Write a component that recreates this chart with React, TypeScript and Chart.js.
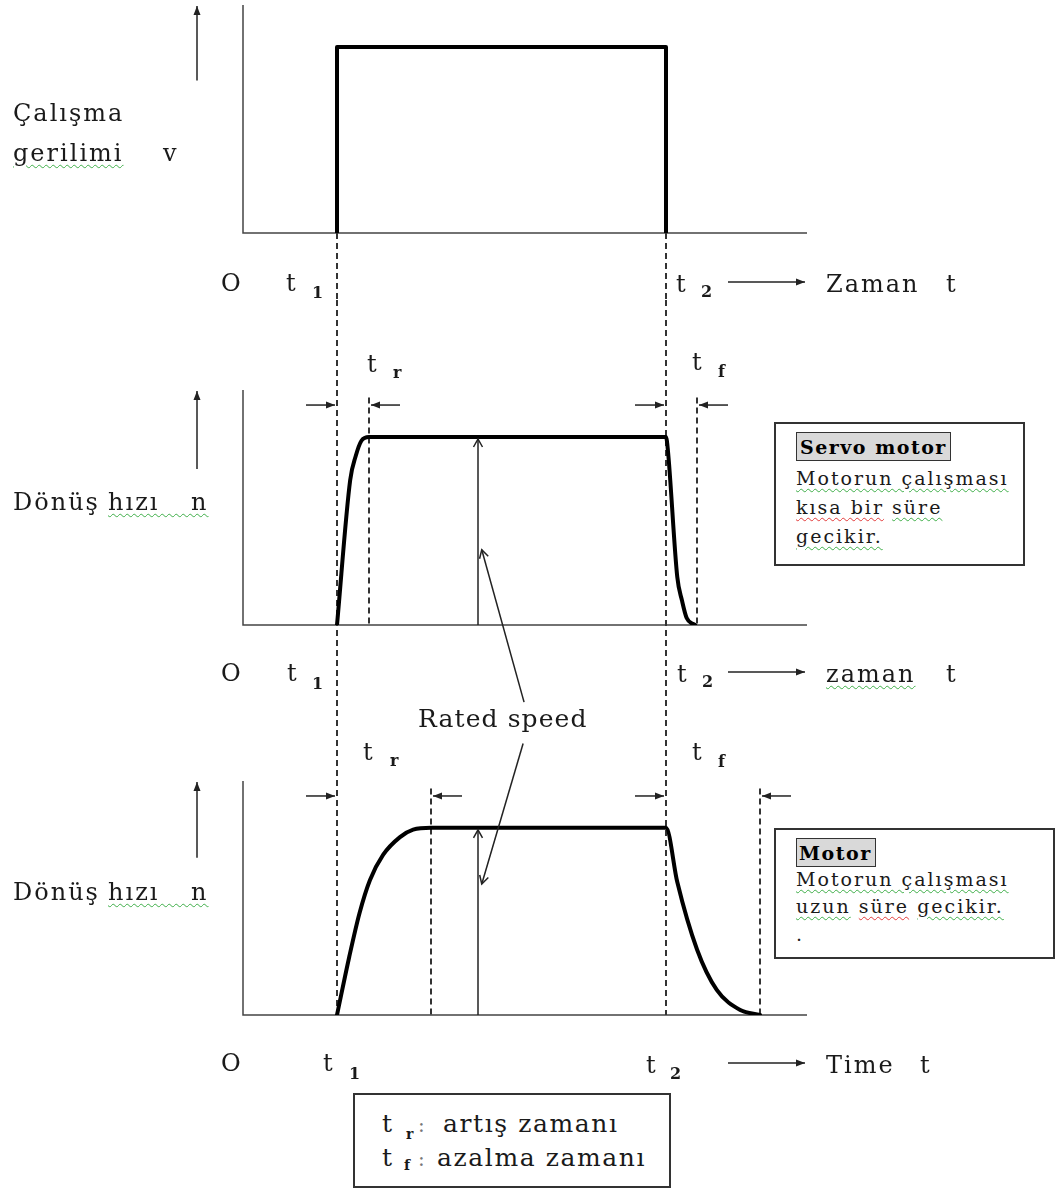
import React, { useEffect, useRef } from "react";
import { Chart, registerables } from "chart.js";
Chart.register(...registerables);

// ---------- data (time in arbitrary units, level normalised: 1 = rated) ----------
const T_MAX = 60;
const T1 = 10;
const T2 = 45;
const SERVO_TR_END = 13.4;
const SERVO_TF_END = 48.3;
const MOTOR_TR_END = 20;
const MOTOR_TF_END = 55;
const RATED_T = 25;

const voltageT = [10, 10, 45, 45];
const voltageV = [0, 1, 1, 0];

const servoT = [10, 11.4, 12.0, 12.6, 13.4, 45, 45.2, 46.2, 46.7, 47.2, 48.1];
const servoN = [0, 0.77, 0.9, 0.98, 1, 1, 0.93, 0.255, 0.13, 0.037, 0];

const motorT = [10, 11.3, 12.4, 13.5, 14.9, 16.7, 18.1, 20, 45, 46.2, 48.3, 50.4, 52.9, 55];
const motorN = [0, 0.31, 0.545, 0.72, 0.855, 0.95, 0.99, 1, 1, 0.71, 0.35, 0.134, 0.027, 0];

// ---------- layout ----------
const W = 1055;
const FONT = "'DejaVu Serif', 'Liberation Serif', serif";
const INK = "#1a1a1a";

type Dashed = { t: number; from: number | "top"; to: number | "bottom" };
type Dim = { t: number; dir: 1 | -1 };
type Deco = {
  yMax: number;
  yArrowFrom: number;
  dashed: Dashed[];
  dims: Dim[];
  dimLevel: number;
  rated?: { t: number; from: [number, number]; to: [number, number] };
  timeArrowOffset: number;
};

type Panel = {
  top: number;
  height: number;
  padTop: number;
  padBottom: number;
  xs: number[];
  ys: number[];
  smooth: boolean;
  deco: Deco;
};

const PANELS: Panel[] = [
  {
    top: 0, height: 300, padTop: 5, padBottom: 67,
    xs: voltageT, ys: voltageV, smooth: false,
    deco: {
      yMax: 1.225, yArrowFrom: 0.82,
      dashed: [
        { t: T1, from: 0, to: "bottom" },
        { t: T2, from: 0, to: "bottom" },
      ],
      dims: [], dimLevel: 1.17, timeArrowOffset: 49,
    },
  },
  {
    top: 300, height: 410, padTop: 90, padBottom: 85,
    xs: servoT, ys: servoN, smooth: true,
    deco: {
      yMax: 1.25, yArrowFrom: 0.83,
      dashed: [
        { t: T1, from: "top", to: "bottom" },
        { t: T2, from: "top", to: "bottom" },
        { t: SERVO_TR_END, from: 1.21, to: 0 },
        { t: SERVO_TF_END, from: 1.21, to: 0 },
      ],
      dims: [
        { t: T1, dir: 1 }, { t: SERVO_TR_END, dir: -1 },
        { t: T2, dir: 1 }, { t: SERVO_TF_END, dir: -1 },
      ],
      dimLevel: 1.17,
      rated: { t: RATED_T, from: [29.9, -0.41], to: [25.4, 0.4] },
      timeArrowOffset: 47,
    },
  },
  {
    top: 710, height: 480, padTop: 71, padBottom: 175,
    xs: motorT, ys: motorN, smooth: true,
    deco: {
      yMax: 1.25, yArrowFrom: 0.84,
      dashed: [
        { t: T1, from: "top", to: 0 },
        { t: T2, from: "top", to: 0 },
        { t: MOTOR_TR_END, from: 1.21, to: 0 },
        { t: MOTOR_TF_END, from: 1.21, to: 0 },
      ],
      dims: [
        { t: T1, dir: 1 }, { t: MOTOR_TR_END, dir: -1 },
        { t: T2, dir: 1 }, { t: MOTOR_TF_END, dir: -1 },
      ],
      dimLevel: 1.17,
      rated: { t: RATED_T, from: [29.8, 1.45], to: [25.4, 0.7] },
      timeArrowOffset: 48,
    },
  },
];

function head(ctx: CanvasRenderingContext2D, x: number, y: number, ang: number, len: number, half: number, filled: boolean) {
  const bx = x - Math.cos(ang) * len;
  const by = y - Math.sin(ang) * len;
  const px = -Math.sin(ang) * half;
  const py = Math.cos(ang) * half;
  ctx.beginPath();
  ctx.moveTo(bx + px, by + py);
  ctx.lineTo(x, y);
  ctx.lineTo(bx - px, by - py);
  if (filled) {
    ctx.closePath();
    ctx.fill();
  } else {
    ctx.stroke();
  }
}

function arrow(ctx: CanvasRenderingContext2D, x0: number, y0: number, x1: number, y1: number, filled: boolean) {
  ctx.beginPath();
  ctx.moveTo(x0, y0);
  ctx.lineTo(x1, y1);
  ctx.stroke();
  const ang = Math.atan2(y1 - y0, x1 - x0);
  head(ctx, x1, y1, ang, filled ? 9 : 8, filled ? 3.5 : 4.5, filled);
}

function makeDeco(d: Deco) {
  return {
    id: "deco",
    beforeDatasetsDraw(chart: any) {
      const { ctx } = chart;
      const x = chart.scales.x;
      const y = chart.scales.y;
      ctx.save();
      // axes
      ctx.strokeStyle = "#444";
      ctx.lineWidth = 1.5;
      ctx.beginPath();
      ctx.moveTo(x.getPixelForValue(0), y.getPixelForValue(d.yMax));
      ctx.lineTo(x.getPixelForValue(0), y.getPixelForValue(0));
      ctx.lineTo(x.getPixelForValue(T_MAX), y.getPixelForValue(0));
      ctx.stroke();
      // dashed guides
      ctx.strokeStyle = "#333";
      ctx.lineWidth = 2;
      ctx.setLineDash([6, 4]);
      for (const g of d.dashed) {
        const px = Math.round(x.getPixelForValue(g.t));
        const a = g.from === "top" ? 0 : y.getPixelForValue(g.from);
        const b = g.to === "bottom" ? chart.height : y.getPixelForValue(g.to);
        ctx.beginPath();
        ctx.moveTo(px, a);
        ctx.lineTo(px, b);
        ctx.stroke();
      }
      ctx.restore();
    },
    afterDatasetsDraw(chart: any) {
      const { ctx, chartArea } = chart;
      const x = chart.scales.x;
      const y = chart.scales.y;
      ctx.save();
      ctx.strokeStyle = "#222";
      ctx.fillStyle = "#222";
      ctx.lineWidth = 1.5;
      // quantity arrow left of the axis
      const ax = chartArea.left - 46;
      arrow(ctx, ax, y.getPixelForValue(d.yArrowFrom), ax, y.getPixelForValue(d.yMax) + 1, true);
      // time arrow
      const ty = y.getPixelForValue(0) + d.timeArrowOffset;
      arrow(ctx, chartArea.right - 79, ty, chartArea.right - 2, ty, true);
      // dimension arrows
      const dy = y.getPixelForValue(d.dimLevel);
      for (const m of d.dims) {
        const px = Math.round(x.getPixelForValue(m.t));
        if (m.dir === 1) arrow(ctx, px - 31, dy, px - 2, dy, true);
        else arrow(ctx, px + 31, dy, px + 2, dy, true);
      }
      // rated speed
      if (d.rated) {
        const rx = x.getPixelForValue(d.rated.t);
        arrow(ctx, rx, y.getPixelForValue(0), rx, y.getPixelForValue(1) + 2, false);
        arrow(
          ctx,
          x.getPixelForValue(d.rated.from[0]), y.getPixelForValue(d.rated.from[1]),
          x.getPixelForValue(d.rated.to[0]), y.getPixelForValue(d.rated.to[1]),
          false
        );
      }
      ctx.restore();
    },
  };
}

function PanelChart({ p }: { p: Panel }) {
  const ref = useRef<HTMLCanvasElement | null>(null);
  useEffect(() => {
    if (!ref.current) return;
    const chart = new Chart(ref.current, {
      type: "line",
      data: {
        datasets: [
          {
            data: p.xs.map((t, i) => ({ x: t, y: p.ys[i] })),
            borderColor: "#000",
            borderWidth: 4,
            pointRadius: 0,
            fill: false,
            borderJoinStyle: "round",
            borderCapStyle: "round",
            cubicInterpolationMode: p.smooth ? "monotone" : "default",
            tension: 0,
          } as any,
        ],
      },
      options: {
        animation: false,
        responsive: false,
        maintainAspectRatio: false,
        devicePixelRatio: 1,
        layout: { padding: { left: 243, right: W - 807, top: p.padTop, bottom: p.padBottom } },
        plugins: { legend: { display: false }, tooltip: { enabled: false } },
        events: [],
        scales: {
          x: { type: "linear", min: 0, max: T_MAX, display: false },
          y: { type: "linear", min: 0, max: p.deco.yMax, display: false },
        },
      },
      plugins: [makeDeco(p.deco)],
    });
    return () => chart.destroy();
  }, [p]);
  return (
    <canvas
      ref={ref}
      width={W}
      height={p.height}
      style={{ position: "absolute", left: 0, top: p.top, width: W, height: p.height, display: "block" }}
    />
  );
}

const wavy = (c: string): React.CSSProperties => ({
  textDecorationLine: "underline",
  textDecorationStyle: "wavy",
  textDecorationColor: c,
  textDecorationThickness: "1px",
  textUnderlineOffset: "3px",
});
const GREEN = "#3fae49";
const RED = "#e23b3b";

function Txt({ x, y, size = 24, ls = 2, bold = false, color = INK, style, children }: any) {
  return (
    <div
      style={{
        position: "absolute",
        left: x,
        top: y - 0.846 * size,
        fontSize: size,
        lineHeight: `${size}px`,
        letterSpacing: ls,
        fontFamily: FONT,
        fontWeight: bold ? 700 : 400,
        color,
        whiteSpace: "pre",
        ...style,
      }}
    >
      {children}
    </div>
  );
}

function Sub({ x, y, tx, ty, sub }: any) {
  return (
    <>
      <Txt x={x} y={y}>t</Txt>
      <Txt x={tx} y={ty} size={16} ls={0} style={{ fontWeight: 600 }}>{sub}</Txt>
    </>
  );
}

function Speed({ y }: { y: number }) {
  return (
    <>
      <Txt x={13} y={y}>Dönüş</Txt>
      <Txt x={108} y={y} style={{ ...wavy(GREEN), wordSpacing: 22 }}>{"hızı n"}</Txt>
    </>
  );
}

export default function App() {
  return (
    <div style={{ position: "absolute", left: 0, top: 0, width: W, height: 1190, background: "#fff", overflow: "hidden" }}>
      {PANELS.map((p, i) => (
        <PanelChart key={i} p={p} />
      ))}

      {/* panel 1 labels */}
      <Txt x={13} y={121}>Çalışma</Txt>
      <Txt x={13} y={161} style={wavy(GREEN)}>gerilimi</Txt>
      <Txt x={163} y={161}>v</Txt>
      <Txt x={221} y={291}>O</Txt>
      <Sub x={286} y={291} tx={312} ty={299} sub="1" />
      <Sub x={676} y={292} tx={701} ty={298} sub="2" />
      <Txt x={826} y={292}>Zaman</Txt>
      <Txt x={946} y={292}>t</Txt>

      {/* panel 2 labels */}
      <Sub x={367} y={372} tx={393} ty={379} sub="r" />
      <Sub x={692} y={370} tx={718} ty={378} sub="f" />
      <Speed y={510} />
      <Txt x={221} y={681}>O</Txt>
      <Sub x={287} y={681} tx={312} ty={690} sub="1" />
      <Sub x={677} y={682} tx={702} ty={688} sub="2" />
      <Txt x={826} y={682} style={wavy(GREEN)}>zaman</Txt>
      <Txt x={946} y={682}>t</Txt>
      <Txt x={418} y={727} size={25} ls={1.1}>Rated speed</Txt>

      {/* servo box */}
      <div style={{ position: "absolute", left: 774, top: 422, width: 251, height: 144, boxSizing: "border-box", border: "2px solid #333", background: "#fff" }} />
      <div style={{ position: "absolute", left: 796, top: 432, width: 155, height: 29, boxSizing: "border-box", border: "1.5px solid #333", background: "#d9d9d9" }} />
      <Txt x={800} y={454} size={19} ls={1.5} bold color="#000">Servo motor</Txt>
      <Txt x={796} y={485} size={19} ls={2} style={wavy(GREEN)}>Motorun çalışması</Txt>
      <Txt x={796} y={514} size={19} ls={2}>
        <span style={wavy(RED)}>kısa bir</span> <span style={wavy(GREEN)}>süre</span>
      </Txt>
      <Txt x={796} y={543} size={19} ls={2} style={wavy(GREEN)}>gecikir.</Txt>

      {/* panel 3 labels */}
      <Sub x={363} y={760} tx={390} ty={767} sub="r" />
      <Sub x={692} y={760} tx={718} ty={768} sub="f" />
      <Speed y={900} />
      <Txt x={221} y={1071}>O</Txt>
      <Sub x={323} y={1071} tx={349} ty={1080} sub="1" />
      <Sub x={646} y={1073} tx={670} ty={1080} sub="2" />
      <Txt x={826} y={1073}>Time</Txt>
      <Txt x={920} y={1073}>t</Txt>

      {/* motor box */}
      <div style={{ position: "absolute", left: 774, top: 828, width: 281, height: 131, boxSizing: "border-box", border: "2px solid #333", background: "#fff" }} />
      <div style={{ position: "absolute", left: 796, top: 838, width: 80, height: 29, boxSizing: "border-box", border: "1.5px solid #333", background: "#d9d9d9" }} />
      <Txt x={799} y={860} size={19} ls={1.5} bold color="#000">Motor</Txt>
      <Txt x={796} y={886} size={19} ls={2} style={wavy(GREEN)}>Motorun çalışması</Txt>
      <Txt x={796} y={913} size={19} ls={2}>
        <span style={wavy(GREEN)}>uzun</span> <span style={wavy(RED)}>süre</span> <span style={wavy(GREEN)}>gecikir.</span>
      </Txt>
      <Txt x={796} y={941} size={19} ls={0}>.</Txt>

      {/* bottom legend box */}
      <div style={{ position: "absolute", left: 353, top: 1093, width: 318, height: 95, boxSizing: "border-box", border: "2px solid #333", background: "#fff" }} />
      <Txt x={382} y={1132} size={25} ls={0}>t</Txt>
      <Txt x={406} y={1139} size={14} ls={0} style={{ fontWeight: 600 }}>r</Txt>
      <Txt x={418} y={1132} size={20} ls={0} color="#777">:</Txt>
      <Txt x={443} y={1132} size={25} ls={1.6}>artış zamanı</Txt>
      <Txt x={382} y={1166} size={25} ls={0}>t</Txt>
      <Txt x={404} y={1170} size={14} ls={0} style={{ fontWeight: 600 }}>f</Txt>
      <Txt x={418} y={1166} size={20} ls={0} color="#777">:</Txt>
      <Txt x={437} y={1166} size={25} ls={1.6}>azalma zamanı</Txt>
    </div>
  );
}
